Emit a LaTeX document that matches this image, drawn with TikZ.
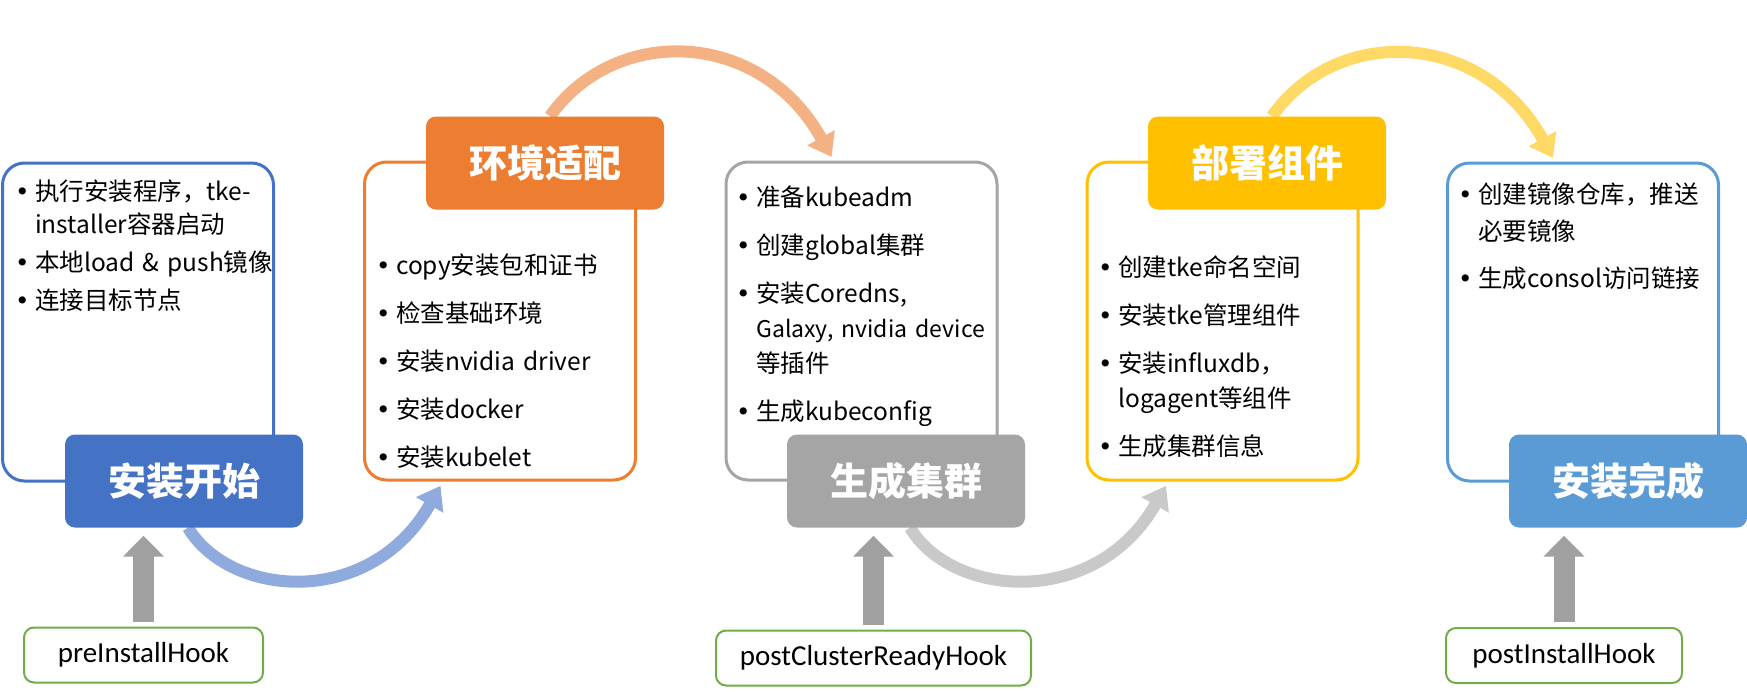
\documentclass[tikz,border=0pt]{standalone}
\usepackage{fontspec}
\setmainfont{Noto Sans CJK SC}
\newfontfamily\hookfont{Carlito}
\newfontfamily\dotfont{DejaVu Sans}
\usepackage{xcolor}
\usetikzlibrary{arrows.meta,backgrounds}

\definecolor{startblue}{HTML}{4472C4}
\definecolor{envorange}{HTML}{ED7D31}
\definecolor{clustergray}{HTML}{A5A5A5}
\definecolor{deployyellow}{HTML}{FFC000}
\definecolor{doneblue}{HTML}{5B9BD5}
\definecolor{hookgreen}{HTML}{70AD47}
\definecolor{hookgray}{HTML}{A0A0A0}
\definecolor{arcblue}{HTML}{8FAADC}
\definecolor{arcorange}{HTML}{F4B183}
\definecolor{arcgray}{HTML}{C9C9C9}
\definecolor{arcyellow}{HTML}{FFD966}

\newcommand\bitem[1]{\par\noindent\hangindent=20pt\hangafter=1\makebox[20pt][l]{\dotfont •}#1}
\newcommand\listfont[1]{\fontsize{24.5}{#1}\selectfont\hyphenpenalty=10000}

\tikzset{
  stagebox/.style={line width=3pt, rounded corners=22pt, minimum width=271pt, minimum height=318pt, inner sep=0pt},
  stagetitle/.style={rounded corners=10pt, minimum width=238pt, minimum height=93pt, inner sep=0pt, text=white, font=\fontsize{38}{40}\selectfont\bfseries},
  hookbox/.style={draw=hookgreen, line width=2pt, rounded corners=10pt, minimum height=55pt, inner sep=0pt, font=\hookfont\fontsize{29}{31}\selectfont},
  listtext/.style={anchor=north west, inner sep=0pt, text width=290pt, align=left},
  hookarrow/.style={draw=hookgray, line width=21pt, -{Triangle[width=40pt,length=21pt]}, shorten <=5pt, shorten >=8pt},
  flowarc/.style={line width=12pt, -{Triangle[width=30pt,length=22pt]}},
}

\begin{document}
\begin{tikzpicture}[x=1pt,y=-1pt]
    \useasboundingbox (0,0) rectangle (1747,691);
    % 五个阶段的外框
    \node[stagebox, draw=startblue] (b1) at (138,322) {};
    \node[stagebox, draw=envorange] (b2) at (500,321) {};
    \node[stagebox, draw=clustergray] (b3) at (861.5,321) {};
    \node[stagebox, draw=deployyellow] (b4) at (1222.5,321) {};
    \node[stagebox, draw=doneblue] (b5) at (1583,322) {};
    % 框内步骤
    \node[listtext, font=\listfont{33}] (l1) at (15,162) {\setlength\parskip{5pt}%
        \bitem{执行安装程序，tke-\newline installer容器启动}\bitem{本地load \& push镜像}\bitem{连接目标节点}};
    \node[listtext, font=\listfont{33}] (l2) at (376,226) {\setlength\parskip{15pt}%
        \bitem{copy安装包和证书}\bitem{检查基础环境}\bitem{安装nvidia driver}\bitem{安装docker}\bitem{安装kubelet}};
    \node[listtext, font=\listfont{35}] (l3) at (736,158) {\setlength\parskip{13pt}%
        \bitem{准备kubeadm}\bitem{创建global集群}\bitem{安装Coredns,\newline {\fontsize{23}{35}\selectfont Galaxy, nvidia device}\newline 等插件}\bitem{生成kubeconfig}};
    \node[listtext, font=\listfont{35}] (l4) at (1098,228) {\setlength\parskip{13pt}%
        \bitem{创建tke命名空间}\bitem{安装tke管理组件}\bitem{安装influxdb，\newline logagent等组件}\bitem{生成集群信息}};
    \node[listtext, font=\listfont{37}] (l5) at (1458,156) {\setlength\parskip{10pt}%
        \bitem{创建镜像仓库，推送\newline 必要镜像}\bitem{生成consol访问链接}};
    % 阶段标题
    \node[stagetitle, fill=startblue] (t1) at (184,481) {安装开始};
    \node[stagetitle, fill=envorange] (t2) at (545,163) {环境适配};
    \node[stagetitle, fill=clustergray] (t3) at (906,481) {生成集群};
    \node[stagetitle, fill=deployyellow] (t4) at (1267,163) {部署组件};
    \node[stagetitle, fill=doneblue] (t5) at (1628,481) {安装完成};
    % hook
    \node[hookbox, minimum width=239pt] (h1) at (143.5,655) {preInstallHook};
    \node[hookbox, minimum width=315pt] (h2) at (873.5,658) {postClusterReadyHook};
    \node[hookbox, minimum width=236pt] (h3) at (1564,655.5) {postInstallHook};
    \draw[hookarrow] (h1.north) -- (h1.north |- t1.south);
    \draw[hookarrow] (h2.north) -- (h2.north |- t3.south);
    \draw[hookarrow] (h3.north) -- (h3.north |- t5.south);
    % 阶段之间的弧形箭头
    \begin{scope}[on background layer]
        \fill[white] (0,0) rectangle (1747,691);
        \draw[flowarc, color=arcblue, shorten >=5pt] ([xshift=4pt]t1.south) .. controls +(42,70) and +(-73,128) .. ([xshift=-57pt]b2.south);
        \draw[flowarc, color=arcorange, shorten >=4pt] ([xshift=5pt]t2.north) .. controls +(65,-92) and +(-73,-132) .. ([xshift=-28pt]b3.north);
        \draw[flowarc, color=arcgray, shorten >=5pt] ([xshift=4pt]t3.south) .. controls +(42,70) and +(-73,128) .. ([xshift=-54pt]b4.south);
        \draw[flowarc, color=arcyellow, shorten >=4pt] ([xshift=5pt]t4.north) .. controls +(65,-92) and +(-73,-132) .. ([xshift=-28pt]b5.north);
    \end{scope}
\end{tikzpicture}
\end{document}
